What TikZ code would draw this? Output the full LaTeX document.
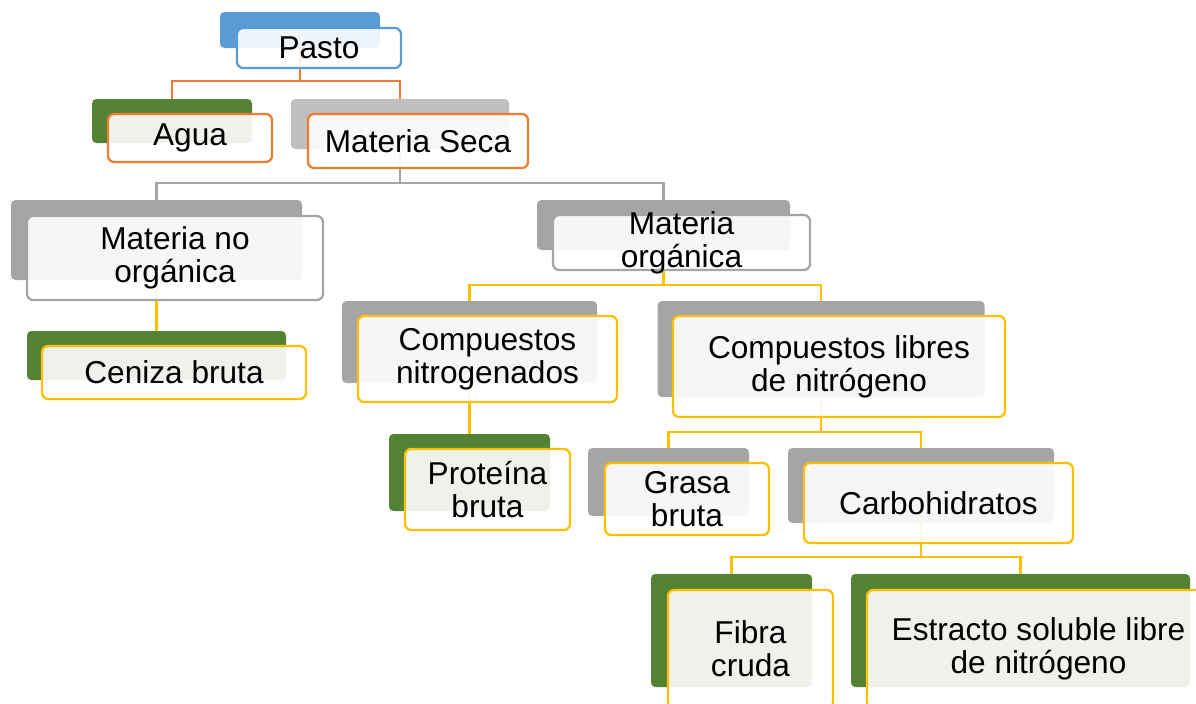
\documentclass[tikz,border=0pt]{standalone}
\usepackage{fontspec}
\setmainfont{Liberation Sans}
\usepackage{xcolor}
\usetikzlibrary{backgrounds}
\definecolor{Azul}{RGB}{91, 155, 213}
\definecolor{Verde}{RGB}{84, 130, 53}
\definecolor{Gris}{RGB}{165, 165, 165}
\definecolor{GrisClaro}{RGB}{191, 191, 191}
\definecolor{Naranja}{RGB}{237, 125, 49}
\definecolor{Amarillo}{RGB}{255, 192, 0}

\begin{document}
\begin{tikzpicture}[x=0.02cm, y=-0.02cm,
    tam/.style 2 args={minimum width=#1*0.02cm, minimum height=#2*0.02cm},
    sombra/.style={rectangle, fill=#1, rounded corners=2.5pt, inner sep=0pt},
    caja/.style={rectangle, draw=#1, line width=1.3pt, fill=white, fill opacity=0.9,
                 text opacity=1, rounded corners=3.5pt, inner sep=0pt, align=center,
                 font=\fontsize{18}{18.6}\selectfont},
    linea/.style={draw=#1, line width=1.2pt}]
    \useasboundingbox (0,0) rectangle (1196,703);
    %Nivel 1
    \node[sombra=Azul, tam={160}{36}] (pastoS) at (300,30) {};
    \node[caja=Azul, tam={164}{40}] (pasto) at (319,48) {Pasto};
    %Nivel 2
    \node[sombra=Verde, tam={160}{44}] (aguaS) at (172,121) {};
    \node[caja=Naranja, tam={164}{48}] (agua) at (190,138) {Agua};
    \node[sombra=GrisClaro, tam={218}{50}] (secaS) at (400,124) {};
    \node[caja=Naranja, tam={220}{54}] (seca) at (418,141) {Materia Seca};
    %Nivel 3
    \node[sombra=Gris, tam={291}{80}] (inorgS) at (156.5,240) {};
    \node[caja=Gris, tam={296}{84}] (inorg) at (175,258) {Materia no\\orgánica};
    \node[sombra=Gris, tam={253}{50}] (orgS) at (663.5,225) {};
    \node[caja=Gris, tam={257}{55}, inner ysep=-0.1cm] (org) at (681.5,242.5) {Materia\\orgánica};
    %Nivel 4
    \node[sombra=Verde, tam={259}{49}] (cenizaS) at (156.5,355.5) {};
    \node[caja=Amarillo, tam={264}{53}] (ceniza) at (174,372.5) {Ceniza bruta};
    \node[sombra=Gris, tam={255}{82}] (nitroS) at (469.5,342) {};
    \node[caja=Amarillo, tam={259}{86}] (nitro) at (487.5,359) {Compuestos\\nitrogenados};
    \node[sombra=Gris, tam={327}{96}] (libresS) at (821,349) {};
    \node[caja=Amarillo, tam={332}{101}] (libres) at (839,366.5) {Compuestos libres\\de nitrógeno};
    %Nivel 5
    \node[sombra=Verde, tam={161}{77}] (proteinaS) at (469.5,472.5) {};
    \node[caja=Amarillo, tam={165}{81}] (proteina) at (487.5,489.5) {Proteína\\bruta};
    \node[sombra=Gris, tam={161}{68}] (grasaS) at (668.5,482) {};
    \node[caja=Amarillo, tam={164}{72}] (grasa) at (687,499) {Grasa\\bruta};
    \node[sombra=Gris, tam={266}{75}] (carboS) at (921,485.5) {};
    \node[caja=Amarillo, tam={269}{80}] (carbo) at (938.5,503) {Carbohidratos};
    %Nivel 6
    \node[sombra=Verde, tam={161}{113}] (fibraS) at (731.5,630.5) {};
    \node[caja=Amarillo, tam={165}{118}] (fibra) at (750.5,649) {Fibra\\cruda};
    \node[sombra=Verde, tam={339}{113}] (extractoS) at (1020.5,630.5) {};
    \node[caja=Amarillo, tam={343}{118}] (extracto) at (1038.5,649) {Estracto soluble libre\\de nitrógeno};
    %Conectores
    \begin{pgfonlayer}{background}
        \draw[linea=Naranja] (pastoS.south) -- ++(0,33) -| (aguaS.north);
        \draw[linea=Naranja] (pastoS.south) -- ++(0,33) -| (secaS.north);
        \draw[linea=Gris] (secaS.south) -- ++(0,34) -| (inorgS.north);
        \draw[linea=Gris] (secaS.south) -- ++(0,34) -| (orgS.north);
        \draw[linea=Amarillo] (inorgS.south) -- (cenizaS.north);
        \draw[linea=Amarillo] (orgS.south) -- ++(0,35) -| (nitroS.north);
        \draw[linea=Amarillo] (orgS.south) -- ++(0,35) -| (libresS.north);
        \draw[linea=Amarillo] (nitroS.south) -- (proteinaS.north);
        \draw[linea=Amarillo] (libresS.south) -- ++(0,35) -| (grasaS.north);
        \draw[linea=Amarillo] (libresS.south) -- ++(0,35) -| (carboS.north);
        \draw[linea=Amarillo] (carboS.south) -- ++(0,34) -| (fibraS.north);
        \draw[linea=Amarillo] (carboS.south) -- ++(0,34) -| (extractoS.north);
    \end{pgfonlayer}
\end{tikzpicture}
\end{document}
